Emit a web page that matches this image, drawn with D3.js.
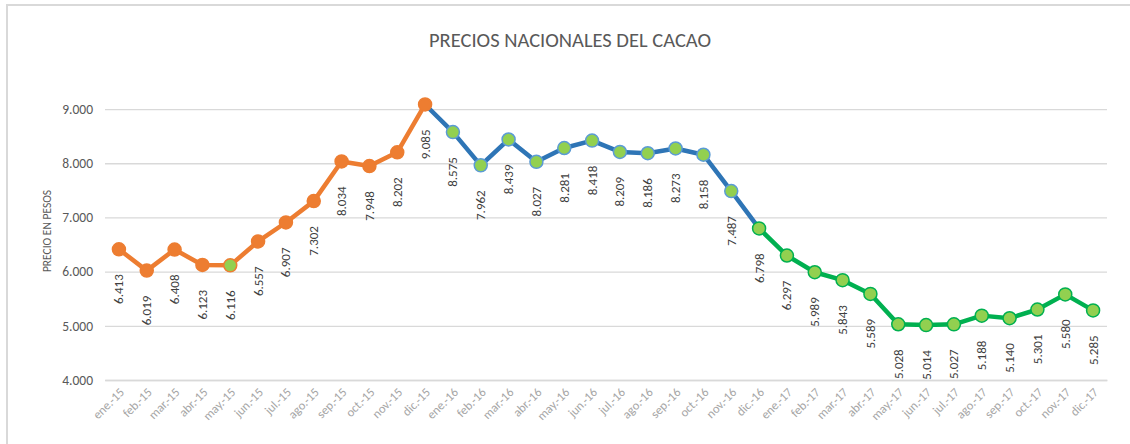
<!DOCTYPE html>
<html>
<head>
<meta charset="utf-8">
<script src="https://cdn.jsdelivr.net/npm/d3@7"></script>
<style>
  body { margin: 0; background: #fff; }
  text { font-family: Carlito, Calibri, Lato, sans-serif; }
</style>
</head>
<body>
<script>
// Chart data
var months = ["ene.-15","feb.-15","mar.-15","abr.-15","may.-15","jun.-15","jul.-15","ago.-15","sep.-15","oct.-15","nov.-15","dic.-15",
              "ene.-16","feb.-16","mar.-16","abr.-16","may.-16","jun.-16","jul.-16","ago.-16","sep.-16","oct.-16","nov.-16","dic.-16",
              "ene.-17","feb.-17","mar.-17","abr.-17","may.-17","jun.-17","jul.-17","ago.-17","sep.-17","oct.-17","nov.-17","dic.-17"];
var prices = [6413,6019,6408,6123,6116,6557,6907,7302,8034,7948,8202,9085,
              8575,7962,8439,8027,8281,8418,8209,8186,8273,8158,7487,6798,
              6297,5989,5843,5589,5028,5014,5027,5188,5140,5301,5580,5285];
var yTicks = [4000,5000,6000,7000,8000,9000];

// Define SVG area dimensions
var svgWidth = 1130;
var svgHeight = 444;

var margin = { top: 82, right: 23, bottom: 64, left: 105 };
var chartWidth = svgWidth - margin.left - margin.right;
var chartHeight = svgHeight - margin.top - margin.bottom;

var svg = d3.select("body")
  .append("svg")
  .attr("width", svgWidth)
  .attr("height", svgHeight);

// outer frame
svg.append("rect")
  .attr("x", 7).attr("y", 5)
  .attr("width", 1140).attr("height", 460)
  .attr("fill", "none")
  .attr("stroke", "#d9d9d9")
  .attr("stroke-width", 2);

var chartGroup = svg.append("g")
  .attr("transform", `translate(${margin.left}, ${margin.top})`);

var xScale = d3.scaleBand()
  .domain(months)
  .range([0, chartWidth]);

var yScale = d3.scaleLinear()
  .domain([4000, 9500])
  .range([chartHeight, 0]);

var fmt = d3.formatLocale({ decimal: ",", thousands: ".", grouping: [3], currency: ["$", ""] }).format(",.0f");
var fmt3 = function(v) { return (v / 1000).toFixed(3); };

// gridlines + y axis
var leftAxis = d3.axisLeft(yScale)
  .tickValues(yTicks)
  .tickSize(-chartWidth)
  .tickPadding(12)
  .tickFormat(fmt);

var yAxisG = chartGroup.append("g").call(leftAxis);
yAxisG.select(".domain").remove();
yAxisG.selectAll("line").attr("stroke", "#d9d9d9").attr("stroke-width", 1.3);
yAxisG.selectAll("text").attr("fill", "#595959").style("font-size", "13.5px");

// x axis
var bottomAxis = d3.axisBottom(xScale).tickSize(0).tickPadding(0);
var xAxisG = chartGroup.append("g")
  .attr("transform", `translate(0, ${chartHeight})`)
  .call(bottomAxis);
xAxisG.select(".domain").attr("stroke", "#d9d9d9").attr("stroke-width", 1.3);
xAxisG.selectAll("text")
  .attr("fill", "#a6a6a6")
  .style("font-size", "12.5px")
  .attr("text-anchor", "end")
  .attr("dy", "0")
  .attr("transform", "translate(6, 13) rotate(-45)");

// title
svg.append("text")
  .attr("x", 570).attr("y", 47)
  .attr("text-anchor", "middle")
  .attr("fill", "#595959")
  .style("font-size", "20.5px")
  .text("PRECIOS NACIONALES DEL CACAO");

// y axis title
svg.append("text")
  .attr("transform", "translate(51, 231) rotate(-90)")
  .attr("text-anchor", "middle")
  .attr("fill", "#595959")
  .style("font-size", "11.5px")
  .text("PRECIO EN PESOS");

var cx = function(i) { return xScale(months[i]) + xScale.bandwidth() / 2; };
var cy = function(i) { return yScale(prices[i]); };

var line = d3.line()
  .x(d => cx(d))
  .y(d => cy(d));

// three segments by year colour
var segments = [
  { idx: d3.range(0, 12), color: "#ed7d31" },
  { idx: d3.range(11, 24), color: "#2e75b6" },
  { idx: d3.range(23, 36), color: "#00b050" }
];

segments.forEach(function(s) {
  chartGroup.append("path")
    .attr("d", line(s.idx))
    .attr("fill", "none")
    .attr("stroke", s.color)
    .attr("stroke-width", 4.5)
    .attr("stroke-linejoin", "round");
});

// markers
chartGroup.selectAll(".marker")
  .data(prices)
  .enter()
  .append("circle")
  .attr("cx", (d, i) => cx(i))
  .attr("cy", (d, i) => cy(i))
  .attr("r", 6.5)
  .attr("fill", (d, i) => (i < 12 && i != 4) ? "#ed7d31" : "#92d050")
  .attr("stroke", (d, i) => i < 12 ? "#ed7d31" : (i < 23 ? "#5b9bd5" : "#00b050"))
  .attr("stroke-width", 1.5);

// data labels, rotated, below each point
chartGroup.selectAll(".lbl")
  .data(prices)
  .enter()
  .append("text")
  .attr("transform", (d, i) => `translate(${cx(i) + 4.5}, ${cy(i) + 25}) rotate(-90)`)
  .attr("text-anchor", "end")
  .attr("fill", "#404040")
  .style("font-size", "13px")
  .text(d => fmt3(d));
</script>
</body>
</html>
